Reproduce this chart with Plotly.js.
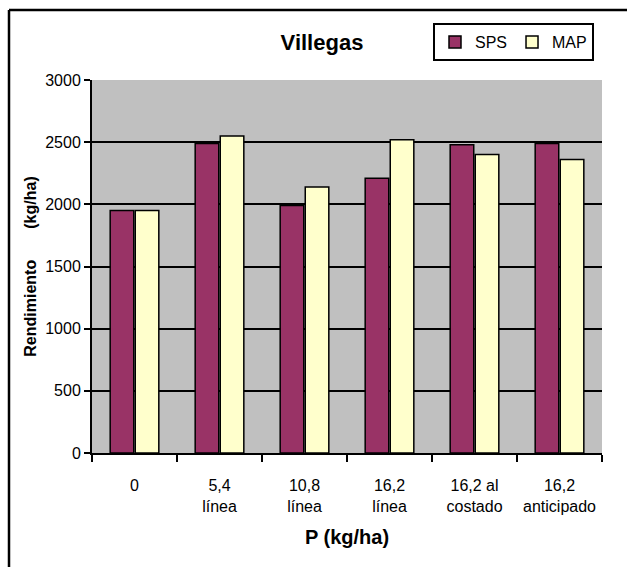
<!DOCTYPE html>
<html>
<head>
<meta charset="utf-8">
<script src="https://cdn.plot.ly/plotly-3.0.1.min.js"></script>
<style>
  html, body { margin: 0; padding: 0; background: #ffffff; }
  #chart { width: 627px; height: 567px; }
</style>
</head>
<body>
<div id="chart"></div>
<script>
// ---- data ----
const categories = ['0', '5,4<br>línea', '10,8<br>línea', '16,2<br>línea', '16,2 al<br>costado', '16,2<br>anticipado'];
const seriesNames = ['SPS', 'MAP'];
const spsValues = [1950, 2490, 1990, 2210, 2480, 2490];
const mapValues = [1950, 2550, 2140, 2520, 2400, 2360];
const yTickVals = [0, 500, 1000, 1500, 2000, 2500, 3000];
const yGridVals = [500, 1000, 1500, 2000, 2500];

// ---- layout geometry (pixels) ----
const W = 627, H = 567;
const M = { l: 92, r: 25, t: 80, b: 114 };
const pw = W - M.l - M.r, ph = H - M.t - M.b;
const px = x => (x - M.l) / pw;          // pixel x -> paper x
const py = y => (H - M.b - y) / ph;      // pixel y -> paper y

const FONT = 'Arial, "Liberation Sans", sans-serif';

const traces = [
  {
    type: 'bar', name: seriesNames[0], x: categories, y: spsValues,
    marker: { color: '#993366', line: { color: '#000000', width: 1.5 } },
    hoverinfo: 'skip'
  },
  {
    type: 'bar', name: seriesNames[1], x: categories, y: mapValues,
    marker: { color: '#FFFFCC', line: { color: '#000000', width: 1.5 } },
    hoverinfo: 'skip'
  }
];

const layout = {
  width: W, height: H,
  margin: M,
  paper_bgcolor: '#ffffff',
  plot_bgcolor: '#C0C0C0',
  font: { family: FONT, color: '#000000', size: 16 },
  barmode: 'group',
  bargap: 0.41,
  bargroupgap: 0.06,
  title: {
    text: '<b>Villegas</b>',
    font: { family: FONT, size: 22, color: '#000000' },
    xref: 'container', yref: 'container',
    x: 322 / W, xanchor: 'center',
    y: 1 - 42 / H, yanchor: 'middle'
  },
  xaxis: {
    type: 'category',
    tickson: 'boundaries',
    ticks: 'outside', ticklen: 7, tickwidth: 2, tickcolor: '#000000',
    showline: true, linecolor: '#000000', linewidth: 2,
    showgrid: false,
    ticklabelstandoff: 17,
    tickfont: { family: FONT, size: 16, color: '#000000' },
    title: {
      text: '<b>P (kg/ha)</b>',
      font: { family: FONT, size: 20, color: '#000000' },
      standoff: 16
    },
    fixedrange: true
  },
  yaxis: {
    range: [0, 3000],
    tickmode: 'array', tickvals: yTickVals,
    ticks: 'outside', ticklen: 6, tickwidth: 2, tickcolor: '#000000',
    showline: true, linecolor: '#000000', linewidth: 2,
    showgrid: false,
    zeroline: false,
    minor: { tickmode: 'array', tickvals: yGridVals, showgrid: true, gridcolor: '#000000', gridwidth: 2, ticks: '' },
    tickfont: { family: FONT, size: 16, color: '#000000' },
    title: {
      text: '<b>Rendimiento\u00A0\u00A0\u00A0\u00A0\u00A0\u00A0\u00A0(kg/ha)</b>',
      font: { family: FONT, size: 16, color: '#000000' },
      standoff: 5
    },
    fixedrange: true
  },
  showlegend: true,
  legend: {
    orientation: 'h',
    x: px(594), xanchor: 'right',
    y: py(23), yanchor: 'top',
    bgcolor: '#ffffff',
    bordercolor: '#000000', borderwidth: 2,
    font: { family: FONT, size: 16, color: '#000000' },
    itemwidth: 30,
    tracegroupgap: 0
  },
  shapes: [
    { type: 'line', xref: 'paper', yref: 'paper', x0: px(9), x1: px(9), y0: py(10), y1: py(H + 2),
      line: { color: '#000000', width: 2.5 } },
    { type: 'line', xref: 'paper', yref: 'paper', x0: px(9), x1: px(W + 2), y0: py(10), y1: py(10),
      line: { color: '#000000', width: 2.5 } }
  ]
};

Plotly.newPlot('chart', traces, layout, { displayModeBar: false, staticPlot: true });
</script>
</body>
</html>
